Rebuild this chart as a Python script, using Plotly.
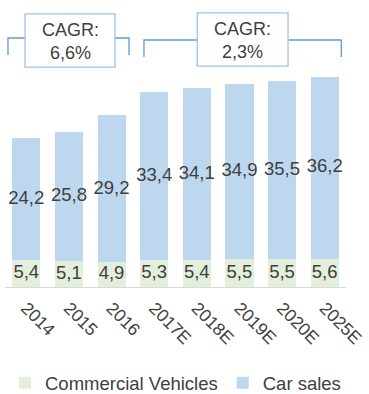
import plotly.graph_objects as go

years = ["2014", "2015", "2016", "2017E", "2018E", "2019E", "2020E", "2025E"]
commercial = [5.4, 5.1, 4.9, 5.3, 5.4, 5.5, 5.5, 5.6]
cars = [24.2, 25.8, 29.2, 33.4, 34.1, 34.9, 35.5, 36.2]
cagr_labels = ["CAGR:<br>6,6%", "CAGR:<br>2,3%"]

GREEN = "#E2EFDA"
BLUE = "#BDD7EE"
TXT = "#404040"
FONT = "Arial, Liberation Sans, sans-serif"

def fmt(v):
    return f"{v:.1f}".replace(".", ",")

fig = go.Figure()
fig.add_trace(go.Bar(x=years, y=commercial, name="Commercial Vehicles",
                     marker=dict(color=GREEN, line=dict(width=0))))
fig.add_trace(go.Bar(x=years, y=cars, name="Car sales",
                     marker=dict(color=BLUE, line=dict(width=0))))

# data labels centered in each segment
fig.add_trace(go.Scatter(x=years, y=[c / 2 for c in commercial], mode="text",
                         text=[fmt(v) for v in commercial],
                         textfont=dict(size=18.5, color=TXT, family=FONT),
                         showlegend=False, hoverinfo="skip"))
fig.add_trace(go.Scatter(x=years, y=[c + v / 2 for c, v in zip(commercial, cars)], mode="text",
                         text=[fmt(v) for v in cars],
                         textfont=dict(size=18.5, color=TXT, family=FONT),
                         showlegend=False, hoverinfo="skip"))

LINE = "#5B9BD5"
BOX = "#9DC3E6"
shapes = []
# bracket 1
shapes.append(dict(type="path", xref="x", yref="y",
                   path="M -0.43,46.1 L -0.43,49.5 L 2.41,49.5 L 2.41,46.1",
                   line=dict(color=LINE, width=1.3)))
# bracket 2
shapes.append(dict(type="path", xref="x", yref="y",
                   path="M 2.76,45.7 L 2.76,49.1 L 7.39,49.1 L 7.39,45.7",
                   line=dict(color=LINE, width=1.3)))
# boxes
shapes.append(dict(type="rect", xref="x", yref="y", x0=-0.03, x1=2.08, y0=43.7, y1=54.3,
                   fillcolor="white", line=dict(color=BOX, width=1.3)))
shapes.append(dict(type="rect", xref="x", yref="y", x0=4.01, x1=6.14, y0=43.9, y1=54.5,
                   fillcolor="white", line=dict(color=BOX, width=1.3)))

annotations = [
    dict(x=1.03, y=48.9, xref="x", yref="y", text=cagr_labels[0], showarrow=False,
         font=dict(size=18, color=TXT, family=FONT), align="center"),
    dict(x=5.07, y=49.1, xref="x", yref="y", text=cagr_labels[1], showarrow=False,
         font=dict(size=18, color=TXT, family=FONT), align="center"),
]

fig.update_layout(
    width=369, height=394,
    margin=dict(l=5, r=23, t=4, b=107, autoexpand=False),
    barmode="stack", bargap=0.34,
    plot_bgcolor="white", paper_bgcolor="white",
    font=dict(family=FONT, color=TXT),
    shapes=shapes, annotations=annotations,
    showlegend=True,
    legend=dict(orientation="h", x=0.5, xanchor="center", y=-0.34, yanchor="middle",
                font=dict(size=18.5, color=TXT, family=FONT), itemwidth=30,
                traceorder="normal"),
    xaxis=dict(type="category", range=[-0.5, 7.5], showline=True, linecolor="#D9D9D9",
               linewidth=1, ticks="outside", ticklen=3, tickcolor="rgba(0,0,0,0)",
               tickangle=45, automargin=False,
               tickfont=dict(size=17.5, color=TXT, family=FONT)),
    yaxis=dict(range=[0, 56.26], visible=False, showgrid=False, automargin=False),
)

fig.write_html("out.html")
